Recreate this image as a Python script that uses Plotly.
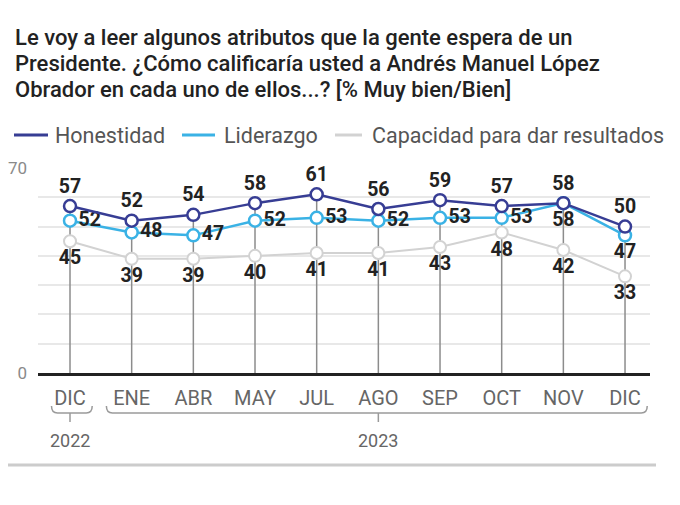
import plotly.graph_objects as go

months = ["DIC", "ENE", "ABR", "MAY", "JUL", "AGO", "SEP", "OCT", "NOV", "DIC"]
years = ["2022", "2023"]
honestidad = [57, 52, 54, 58, 61, 56, 59, 57, 58, 50]
liderazgo = [52, 48, 47, 52, 53, 52, 53, 53, 58, 47]
capacidad = [45, 39, 39, 40, 41, 41, 43, 48, 42, 33]
series_names = ["Honestidad", "Liderazgo", "Capacidad para dar resultados"]
colors = ["#373d94", "#3ab2e5", "#d2d2d2"]

title_lines = [
    "Le voy a leer algunos atributos que la gente espera de un",
    "Presidente. ¿Cómo calificaría usted a Andrés Manuel López",
    "Obrador en cada uno de ellos...? [% Muy bien/Bien]",
]

x = list(range(len(months)))
XMIN, XMAX = -0.519, 9.405
W, H = 680, 505
ML, MR, MT, MB = 30, 38, 160, 140
PW = W - ML - MR
PH = H - MT - MB
FONT = "Roboto"


def px(i):
    return (i - XMIN) / (XMAX - XMIN)


def pxp(pix):
    return (pix - ML) / PW


def py(pix):
    return (H - MB - pix) / PH


fig = go.Figure()

# vertical drop lines from top value to 0
vx, vy = [], []
for i in x:
    top = max(honestidad[i], liderazgo[i], capacidad[i])
    vx += [i, i, None]
    vy += [0, top, None]
fig.add_trace(go.Scatter(x=vx, y=vy, mode="lines", line=dict(color="#8c8c8c", width=1.5),
                         showlegend=False, hoverinfo="skip"))

label_font = dict(family=FONT, size=19.5, color="#222222", weight=700)

# Capacidad
fig.add_trace(go.Scatter(
    x=x, y=capacidad, mode="lines+markers+text", text=[str(v) for v in capacidad],
    name=series_names[2], textposition="bottom center", textfont=label_font,
    line=dict(color=colors[2], width=2),
    marker=dict(size=12, color="white", line=dict(color=colors[2], width=2)),
    showlegend=False, cliponaxis=False))

# Liderazgo
lid_pos = ["middle right"] * len(x)
lid_pos[8] = "bottom center"
lid_pos[9] = "bottom center"
fig.add_trace(go.Scatter(
    x=x, y=liderazgo, mode="lines+markers+text", text=[str(v) for v in liderazgo],
    name=series_names[1], textposition=lid_pos, textfont=label_font,
    line=dict(color=colors[1], width=2.5),
    marker=dict(size=12, color="white", line=dict(color=colors[1], width=2.5)),
    showlegend=False, cliponaxis=False))

# Honestidad
fig.add_trace(go.Scatter(
    x=x, y=honestidad, mode="lines+markers+text", text=[str(v) for v in honestidad],
    name=series_names[0], textposition="top center", textfont=label_font,
    line=dict(color=colors[0], width=2.5),
    marker=dict(size=12, color="white", line=dict(color=colors[0], width=2.5)),
    showlegend=False, cliponaxis=False))

annotations = []
shapes = []

for k, line in enumerate(title_lines):
    annotations.append(dict(text=line, xref="paper", yref="paper", x=pxp(5),
                            y=py([29, 55, 81][k]), xanchor="left", yanchor="middle",
                            showarrow=False,
                            font=dict(family=FONT, size=22, color="#222222", weight=500)))

# manual legend
LEG_Y = 127
leg_pos = [(6, 40, 45), (174, 207, 214), (327, 354, 362)]
for name, c, (l0, l1, t0) in zip(series_names, colors, leg_pos):
    shapes.append(dict(type="line", xref="paper", yref="paper", x0=pxp(l0), x1=pxp(l1),
                       y0=py(LEG_Y), y1=py(LEG_Y), line=dict(color=c, width=3)))
    annotations.append(dict(text=name, xref="paper", yref="paper", x=pxp(t0), y=py(LEG_Y),
                            xanchor="left", yanchor="middle", showarrow=False,
                            font=dict(family=FONT, size=21.5, color="#555555")))

# year labels
for yr, c in zip(years, [0, 5]):
    annotations.append(dict(text=yr, xref="paper", yref="paper", x=px(c), y=py(432),
                            xanchor="center", yanchor="middle",
                            showarrow=False, font=dict(family=FONT, size=18, color="#666666")))


def bracket(a, b, c):
    xa, xb, xc = px(a), px(b), px(c)
    yt, yb = py(398), py(405)
    d = 6 / PW
    path = (f"M {xa},{yt} Q {xa},{yb} {xa + d},{yb} L {xb - d},{yb} Q {xb},{yb} {xb},{yt}")
    shapes.append(dict(type="path", path=path, xref="paper", yref="paper",
                       line=dict(color="#9a9a9a", width=1.5)))
    shapes.append(dict(type="line", xref="paper", yref="paper", x0=xc, x1=xc, y0=yb, y1=py(414),
                       line=dict(color="#9a9a9a", width=1.5)))


bracket(-0.3, 0.36, 0)
bracket(0.59, 9.36, 5)

# bottom separator
shapes.append(dict(type="line", xref="paper", yref="paper", x0=pxp(0), x1=pxp(648),
                   y0=py(457), y1=py(457), line=dict(color="#cccccc", width=3)))

fig.update_layout(
    width=W, height=H,
    margin=dict(l=ML, r=MR, t=MT, b=MB, autoexpand=False),
    plot_bgcolor="white", paper_bgcolor="white",
    font=dict(family=FONT, color="#555555"),
    annotations=annotations, shapes=shapes,
    showlegend=False,
    xaxis=dict(range=[XMIN, XMAX], tickmode="array", tickvals=x, ticktext=months,
               showgrid=False, zeroline=False, showline=True, linecolor="#222222", linewidth=3,
               ticks="outside", ticklen=5, tickcolor="rgba(0,0,0,0)", automargin=False,
               tickfont=dict(family=FONT, size=20, color="#666666"), fixedrange=True),
    yaxis=dict(range=[0, 70], tickmode="array", tickvals=[0, 70], ticktext=["0", "70"],
               showgrid=True, gridcolor="#e8e8e8", gridwidth=1.5, zeroline=False,
               automargin=False, ticklabelstandoff=10,
               minor=dict(dtick=10, showgrid=True, gridcolor="#e8e8e8", gridwidth=1.5),
               tickfont=dict(family=FONT, size=17, color="#8a8a8a"), fixedrange=True),
)

fig.write_html("out.html")
